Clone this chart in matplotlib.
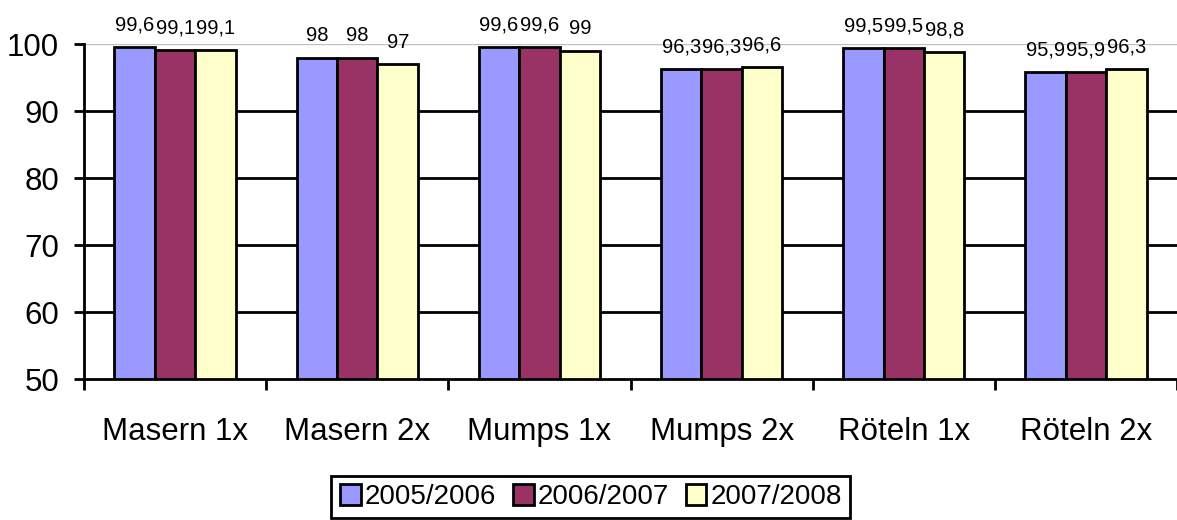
import numpy as np
import matplotlib.pyplot as plt

plt.rcParams['font.family'] = ['Liberation Sans', 'DejaVu Sans']

categories = ["Masern 1x", "Masern 2x", "Mumps 1x", "Mumps 2x", "Röteln 1x", "Röteln 2x"]
series_names = ["2005/2006", "2006/2007", "2007/2008"]
s2005 = [99.6, 98, 99.6, 96.3, 99.5, 95.9]
s2006 = [99.1, 98, 99.6, 96.3, 99.5, 95.9]
s2007 = [99.1, 97, 99, 96.6, 98.8, 96.3]
colors = ["#9999FF", "#993366", "#FFFFCC"]


def fmt(v):
    if float(v).is_integer():
        return str(int(v))
    return ("%.1f" % v).replace(".", ",")


fig = plt.figure(figsize=(11.77, 5.2), dpi=100)
ax = fig.add_axes([0.0714, 0.271, 0.9286, 0.644])

x = np.arange(len(categories))
w = 0.222
for i, (vals, name, c) in enumerate(zip([s2005, s2006, s2007], series_names, colors)):
    pos = x + (i - 1) * w
    ax.bar(pos, np.array(vals) - 50, width=w, bottom=50, color=c, edgecolor="black",
           linewidth=2, label=name, zorder=3)
    for p, v in zip(pos, vals):
        ax.annotate(fmt(v), (p, v), xytext=(0, 9), textcoords="offset points",
                    ha="center", va="bottom", fontsize=14.5)

for g in [60, 70, 80, 90]:
    ax.axhline(g, color="black", linewidth=2, zorder=1)
ax.axhline(100, color="#c0c0c0", linewidth=1, zorder=1)

ax.set_ylim(50, 100)
ax.set_xlim(-0.5, len(categories) - 0.5)
ax.set_yticks([50, 60, 70, 80, 90, 100])
ax.set_xticks(x)
ax.set_xticklabels(categories, fontsize=22.5)
ax.set_xticks(np.arange(-0.5, len(categories), 1), minor=True)
ax.tick_params(axis="x", which="major", length=0, pad=27)
ax.tick_params(axis="x", which="minor", length=8, width=2, direction="out")
ax.tick_params(axis="y", labelsize=22.5, length=7, width=2, direction="out", pad=11)

for s in ["top", "right"]:
    ax.spines[s].set_visible(False)
for s in ["left", "bottom"]:
    ax.spines[s].set_linewidth(2)

leg = fig.legend(loc="center", bbox_to_anchor=(0.502, 0.044), ncol=3, fontsize=20,
                 handlelength=0.75, handleheight=0.75, handletextpad=0.15, columnspacing=0.6,
                 fancybox=False, edgecolor="black", framealpha=1, borderpad=0.3)
leg.get_frame().set_linewidth(2)

fig.savefig("out.png", dpi=100)
